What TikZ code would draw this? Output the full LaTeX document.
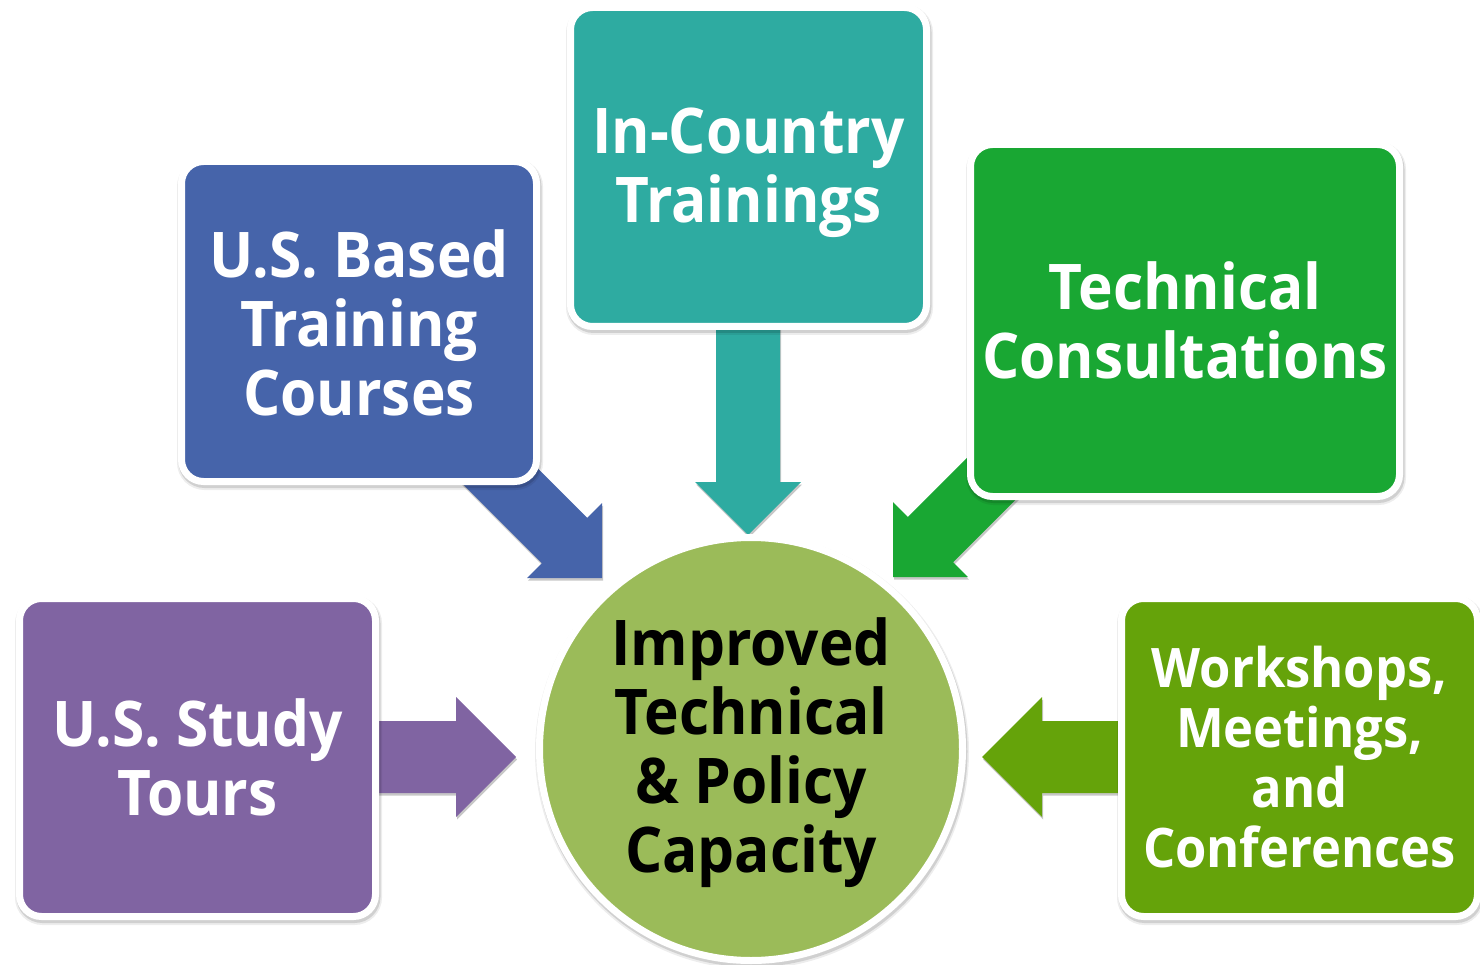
\documentclass[tikz,border=0pt]{standalone}
\usepackage{fontspec}
\newfontfamily\labelfont{Open Sans}[FakeStretch=0.93]
\definecolor{cBlue}{HTML}{4664AA}
\definecolor{cTeal}{HTML}{2EABA1}
\definecolor{cGreen}{HTML}{19A733}
\definecolor{cPurple}{HTML}{8064A2}
\definecolor{cOlive}{HTML}{65A30A}
\definecolor{cCircle}{HTML}{9BBB59}

% block arrow: colour, tip, angle, length, head half-width, shaft half-width
\newcommand\blockarrow[6]{%
  \begin{scope}[shift={#2}, rotate=#3]
    \fill[#1, arrowshadow] (0,0) -- (-#5,#5) -- (-#5,#6) -- (-#4,#6)
      -- (-#4,-#6) -- (-#5,-#6) -- (-#5,-#5) -- cycle;
  \end{scope}}

\tikzset{
  arrowshadow/.style={preaction={fill=black, fill opacity=0.22,
      transform canvas={xshift=1pt, yshift=-2.5pt}}},
  boxshadow/.style={
    preaction={fill=black, draw=black, opacity=0.07, line width=11pt,
      transform canvas={xshift=1pt, yshift=-3pt}},
    preaction={fill=black, draw=black, opacity=0.12, line width=8pt,
      transform canvas={xshift=1pt, yshift=-2.5pt}}},
  box/.style={rectangle, rounded corners=22pt, draw=white, line width=7pt,
    inner sep=0pt, boxshadow},
  boxtext/.style={text=white, align=center, inner sep=0pt,
    font=\labelfont\bfseries\fontsize{63}{69}\selectfont},
  hub/.style={circle, draw=white, line width=7pt, fill=cCircle,
    inner sep=0pt, minimum size=423pt, boxshadow},
  hubtext/.style={boxtext, text=black}
}

\begin{document}
\begin{tikzpicture}[x=1pt, y=-1pt]
  \useasboundingbox (0,0) rectangle (1480,965);

  % arrow tips pointing at the hub
  \coordinate (tipTeal)   at (748,535);
  \coordinate (tipBlue)   at (602,578);
  \coordinate (tipGreen)  at (893,577);
  \coordinate (tipPurple) at (516,757);
  \coordinate (tipOlive)  at (982,757);

  \blockarrow{cTeal}{(tipTeal)}{-90}{235}{53}{32}
  \blockarrow{cBlue}{(tipBlue)}{-45}{190}{53}{32}
  \blockarrow{cGreen}{(tipGreen)}{-135}{185}{53}{32}
  \blockarrow{cPurple}{(tipPurple)}{0}{180}{60}{36}
  \blockarrow{cOlive}{(tipOlive)}{180}{180}{60}{36}

  % source boxes
  \node[box, fill=cBlue, minimum width=355pt, minimum height=320pt]
    (based) at (359,321.5) {};
  \node[box, fill=cTeal, minimum width=356pt, minimum height=319pt]
    (country) at (748.5,167) {};
  \node[box, fill=cGreen, minimum width=429pt, minimum height=352pt]
    (consult) at (1185,320.5) {};
  \node[box, fill=cPurple, minimum width=356pt, minimum height=318pt]
    (tours) at (197.5,757.5) {};
  \node[box, fill=cOlive, minimum width=356pt, minimum height=318pt]
    (workshops) at (1299.5,757.5) {};

  % central outcome
  \node[hub] (capacity) at (751,749) {};

  % labels
  \node[boxtext] (basedText) at ([yshift=-1pt]based.center)
    {U.S. Based\\Training\\Courses};
  \node[boxtext] (countryText) at ([yshift=-6pt]country.center)
    {In-Country\\Trainings};
  \node[boxtext] (consultText) at (consult.center)
    {Technical\\Consultations};
  \node[boxtext] (toursText) at (tours.center)
    {U.S. Study\\Tours};
  \node[boxtext, font=\labelfont\bfseries\fontsize{54.5}{60}\selectfont]
    (workshopsText) at (workshops.center)
    {Workshops,\\Meetings,\\and\\Conferences};
  \node[hubtext] (capacityText) at ([yshift=-4pt]capacity.center)
    {Improved\\Technical\\\&~Policy\\Capacity};
\end{tikzpicture}
\end{document}
